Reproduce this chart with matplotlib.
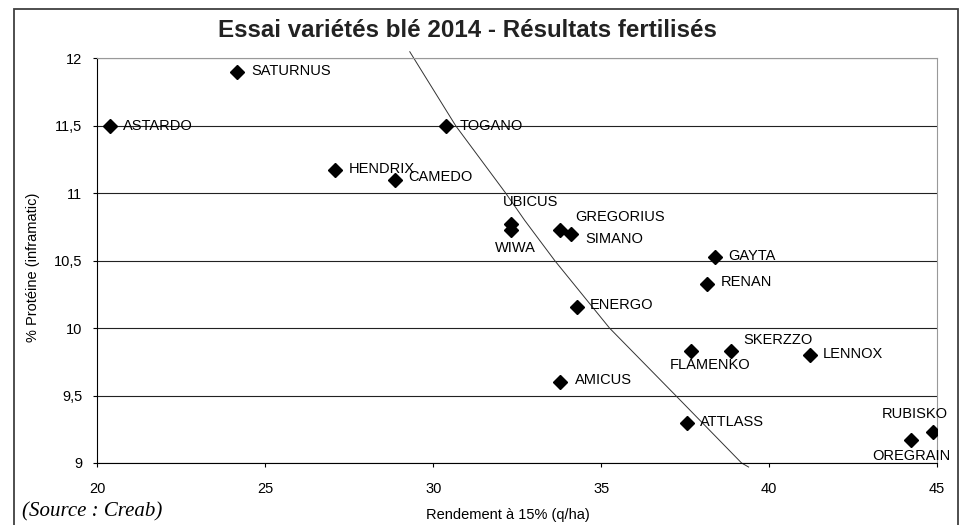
import matplotlib
matplotlib.use("Agg")
import matplotlib.pyplot as plt
from matplotlib.patches import Rectangle
from matplotlib.ticker import FuncFormatter

plt.rcParams['font.family'] = ['Liberation Sans', 'DejaVu Sans']

# données
varietes = ["ASTARDO", "SATURNUS", "TOGANO", "HENDRIX", "CAMEDO", "UBICUS", "WIWA",
            "GREGORIUS", "SIMANO", "GAYTA", "RENAN", "ENERGO", "SKERZZO", "FLAMENKO",
            "LENNOX", "AMICUS", "ATTLASS", "RUBISKO", "OREGRAIN"]
rendement = [20.37, 24.14, 30.37, 27.07, 28.85, 32.31, 32.31,
             33.78, 34.11, 38.40, 38.16, 34.27, 38.87, 37.66,
             41.21, 33.77, 37.55, 44.89, 44.23]
proteine = [11.50, 11.90, 11.50, 11.17, 11.10, 10.77, 10.73,
            10.73, 10.70, 10.53, 10.33, 10.16, 9.83, 9.83,
            9.80, 9.60, 9.30, 9.23, 9.17]
# position des étiquettes (décalage en pixels)
decal = [(13, 0), (15, 1), (14, 0), (14, 1), (14, 3), (-8, 22), (-16, -18),
         (15, 13), (14, -5), (13, 1), (13, 2), (13, 2), (12, 11), (-21, -14),
         (13, 1), (15, 2), (13, 1), (-52, 18), (-39, -16)]

# courbe tracée sur le graphique
courbe_x = [29.30, 30.67, 32.16, 32.72, 33.62, 35.25, 37.22, 39.18, 39.39]
courbe_y = [12.05, 11.50, 11.00, 10.80, 10.50, 10.00, 9.50, 9.00, 8.97]

fig = plt.figure(figsize=(9.69, 5.25), dpi=100)
ax = fig.add_axes([0.1006, 0.1181, 0.8664, 0.7705])

ax.plot(courbe_x, courbe_y, color='#333333', lw=0.7, clip_on=False, zorder=2)
ax.plot(rendement, proteine, 'D', color='black', ms=6.8, ls='none', zorder=3)

for nom, x, y, d in zip(varietes, rendement, proteine, decal):
    ax.annotate(nom, (x, y), xytext=d, textcoords='offset pixels',
                ha='left', va='center', fontsize=10.5, zorder=4)

ax.set_xlim(20, 45)
ax.set_ylim(9, 12)
ax.set_xticks([20, 25, 30, 35, 40, 45])
ax.set_yticks([9, 9.5, 10, 10.5, 11, 11.5, 12])
virgule = FuncFormatter(lambda v, p: f"{v:g}".replace('.', ','))
ax.yaxis.set_major_formatter(virgule)
ax.tick_params(direction='out', length=3, width=0.8, labelsize=10.5)
ax.tick_params(axis='x', pad=11)
ax.tick_params(axis='y', pad=8)
ax.grid(axis='y', color='#222222', lw=0.8)
ax.set_axisbelow(True)
for s in ['top', 'right']:
    ax.spines[s].set_color('#999999')
for s in ['left', 'bottom']:
    ax.spines[s].set_color('black')

fig.text(0.4825, 0.930, "Essai variétés blé 2014 - Résultats fertilisés",
         ha='center', va='baseline', fontsize=17.4, fontweight='bold', color='#222222')
fig.text(0.034, 0.491, "% Protéine (inframatic)", rotation=90,
         ha='center', va='center', fontsize=10.5)
fig.text(0.524, 0.019, "Rendement à 15% (q/ha)", ha='center', va='center', fontsize=10.5)
fig.text(0.0227, 0.0248, "(Source : Creab)", ha='left', va='center', fontsize=15,
         family='Liberation Serif', style='italic')

fig.patches.append(Rectangle((0.01445, -0.02), 0.9737, 1.0029, transform=fig.transFigure,
                             fill=False, edgecolor='#404040', lw=1.3))

fig.savefig("out.png", dpi=100)
